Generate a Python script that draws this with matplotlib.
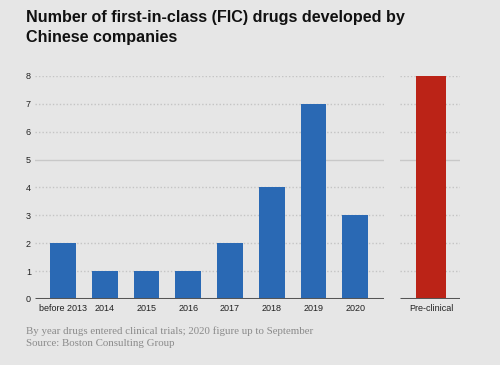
import matplotlib
matplotlib.use("Agg")
import matplotlib.pyplot as plt

categories = ["before 2013", "2014", "2015", "2016", "2017", "2018", "2019", "2020"]
values = [2, 1, 1, 1, 2, 4, 7, 3]
pre_label = ["Pre-clinical"]
pre_values = [8]
yticks = [0, 1, 2, 3, 4, 5, 6, 7, 8]

title = "Number of first-in-class (FIC) drugs developed by\nChinese companies"
note = "By year drugs entered clinical trials; 2020 figure up to September\nSource: Boston Consulting Group"

BG = "#e6e6e6"
BLUE = "#2a69b4"
RED = "#bb2317"
W, H = 500, 365

fig = plt.figure(figsize=(W / 100, H / 100), dpi=100, facecolor=BG)

def axrect(x0, x1, ytop, ybot):
    return [x0 / W, 1 - ybot / H, (x1 - x0) / W, (ybot - ytop) / H]

ax1 = fig.add_axes(axrect(35, 384, 76, 299))
ax2 = fig.add_axes(axrect(400, 460, 76, 299))

def style(ax):
    ax.set_facecolor(BG)
    ax.set_ylim(0, 8)
    ax.set_yticks(yticks)
    for s in ax.spines.values():
        s.set_visible(False)
    for y in yticks[1:]:
        if y == 5:
            ax.axhline(y, color="#c8c8c8", lw=1.0, zorder=0)
        else:
            ax.axhline(y, color="#c4c4c4", lw=1.0, ls=(0, (1, 1.5)), zorder=0)
    ax.axhline(0, color="#555555", lw=2.2, zorder=3, solid_capstyle="butt")
    ax.tick_params(axis="both", length=0, labelsize=6.5, colors="#222222")

x = list(range(len(categories)))
ax1.bar(x, values, width=0.62, color=BLUE, zorder=2)
ax1.set_xlim(-0.67, 7.69)
style(ax1)
ax1.set_xticks(x)
ax1.set_xticklabels(categories, fontfamily="Liberation Sans")
ax1.tick_params(axis="x", pad=3.5)
ax1.tick_params(axis="y", pad=3)
ax1.set_yticklabels([str(v) for v in yticks], fontfamily="Liberation Sans")

ax2.bar([0], pre_values, width=1.0, color=RED, zorder=2)
ax2.set_xlim(-1.03, 0.97)
style(ax2)
ax2.set_xticks([0])
ax2.set_xticklabels(pre_label, fontfamily="Liberation Sans")
ax2.tick_params(axis="x", pad=3.5)
ax2.set_yticklabels([])

fig.text(26 / W, 1 - 10 / H, title, fontfamily="Liberation Sans", fontweight="bold",
         fontsize=11.6, va="top", ha="left", color="#111111", linespacing=1.4)
fig.text(26 / W, 1 - 326 / H, note, fontfamily="Liberation Serif",
         fontsize=7.8, va="top", ha="left", color="#8a8a8a", linespacing=1.4)

fig.savefig("out.png", dpi=100, facecolor=BG)
